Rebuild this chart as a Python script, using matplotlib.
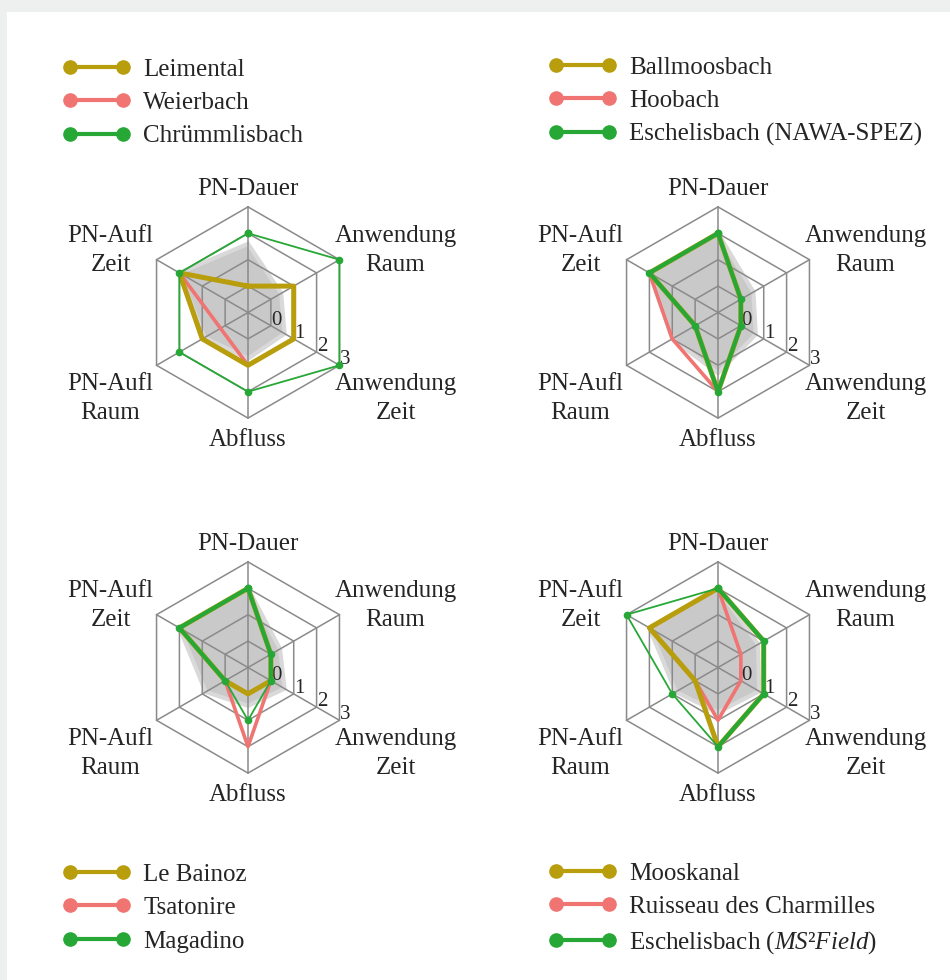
import numpy as np
import matplotlib.pyplot as plt
from matplotlib.lines import Line2D
from matplotlib.patches import Rectangle

plt.rcParams['font.family'] = ['Liberation Serif', 'DejaVu Serif']
plt.rcParams['mathtext.fontset'] = 'custom'
plt.rcParams['mathtext.rm'] = 'Liberation Serif'
plt.rcParams['mathtext.it'] = 'Liberation Serif:italic'

# radar axes, clockwise from the top
categories = ['PN-Dauer', 'Anwendung\nRaum', 'Anwendung\nZeit', 'Abfluss', 'PN-Aufl\nRaum', 'PN-Aufl\nZeit']
ring_values = [0, 1, 2, 3]

# panel 1
names_1 = ['Leimental', 'Weierbach', 'Chrümmlisbach']
leimental = [0, 1, 1, 1, 1, 2]
weierbach = [0, 1, 1, 1, 0.2, 2]
chruemmlisbach = [2, 3, 3, 2, 2, 2]
grey_1 = [1.6, 0.45, 0.6, 0.75, 0.9, 2.0]

# panel 2
names_2 = ['Ballmoosbach', 'Hoobach', 'Eschelisbach (NAWA-SPEZ)']
ballmoosbach = [2, 0, 0, 2, 0, 2]
hoobach = [2, 0, 0, 2, 1, 2]
eschelisbach_nawa = [2, 0, 0, 2, 0, 2]
grey_2 = [2.0, 0.55, 0.65, 1.3, 1.0, 2.0]

# panel 3
names_3 = ['Le Bainoz', 'Tsatonire', 'Magadino']
le_bainoz = [2, 0, 0, 0, 0, 2]
tsatonire = [2, 0, 0, 2, 0, 2]
magadino = [2, 0, 0, 1, 0, 2]
grey_3 = [2.0, 0.4, 0.6, 0.45, 0.85, 2.0]

# panel 4
names_4 = ['Mooskanal', 'Ruisseau des Charmilles', r'Eschelisbach ($\mathit{MS}$²$\mathit{Field}$)']
mooskanal = [2, 1, 1, 2, 0, 2]
charmilles = [2, 0, 0, 1, 0, 2]
eschelisbach_ms2 = [2, 1, 1, 2, 1, 3]
grey_4 = [2.0, 0.75, 0.8, 0.7, 0.85, 2.0]

YELLOW = '#b89d0c'
RED = '#f07472'
GREEN = '#27a836'
TXT = '#252525'
GRID = '#8a8a8a'

W, H = 950, 980
fig = plt.figure(figsize=(W / 100, H / 100), dpi=100, facecolor='#eef0ef')
fig.patches.append(Rectangle((7 / W, 0), 1, 1 - 12 / H, transform=fig.transFigure,
                             facecolor='white', edgecolor='none', zorder=-5))

theta = np.arange(6) * np.pi / 3
theta_c = np.append(theta, theta[0])


def close(v):
    v = np.asarray(v, dtype=float)
    return np.append(v, v[0])


# label offsets from the outer vertex, pixels (dx, dy up)
label_off = [(0, 18), (56, 9), (56, -33), (0, -22), (-46, -33), (-46, 9)]

R = 105.6  # outer ring radius in px


def radar(cx, cy, yel, red, grn, grey):
    ax = fig.add_axes([(cx - R) / W, 1 - (cy + R) / H, 2 * R / W, 2 * R / H], projection='polar')
    ax.set_theta_offset(np.pi / 2)
    ax.set_theta_direction(-1)
    ax.set_ylim(-1, 3)
    ax.axis('off')

    ax.fill(theta_c, close(grey), facecolor='#c9c9c9', edgecolor='#d9d9d9', lw=3, zorder=1, clip_on=False)
    for v in ring_values:
        ax.plot(theta_c, [v] * 7, color=GRID, lw=1.1, zorder=2, clip_on=False)
    for t in theta:
        ax.plot([t, t], [-1, 3], color=GRID, lw=1.1, zorder=2, clip_on=False)

    ax.plot(theta_c, close(red), color=RED, lw=2.6, zorder=3, clip_on=False)
    ax.plot(theta_c, close(yel), color=YELLOW, lw=3.6, zorder=4, clip_on=False)
    ax.plot(theta_c, close(grn), color=GREEN, lw=1.3, marker='o', ms=4.5, zorder=5, clip_on=False)
    # where green runs on top of yellow it shows thicker
    both = np.where(close(grn) == close(yel), close(grn), np.nan)
    ax.plot(theta_c, both, color=GREEN, lw=3.0, zorder=6, clip_on=False)

    for t, lab, (dx, dy) in zip(theta, categories, label_off):
        ax.annotate(lab, xy=(t, 3), xytext=(dx * 0.72, dy * 0.72), textcoords='offset points',
                    ha='center', va='center', fontsize=18, color=TXT, linespacing=1.4)
    for v in ring_values:
        ax.annotate(str(v), xy=(theta[2], v), xytext=(4.0, 4.0), textcoords='offset points',
                    ha='center', va='center', fontsize=15, color=TXT)


radar(248, 312.5, leimental, weierbach, chruemmlisbach, grey_1)
radar(718, 312.5, ballmoosbach, hoobach, eschelisbach_nawa, grey_2)
radar(248, 667.5, le_bainoz, tsatonire, magadino, grey_3)
radar(718, 667.5, mooskanal, charmilles, eschelisbach_ms2, grey_4)


def legend(names, x, y):
    handles = [Line2D([], [], color=c, lw=3, marker='o', ms=9.5) for c in (YELLOW, RED, GREEN)]
    leg = fig.legend(handles, names, loc='upper left', bbox_to_anchor=(x / W, 1 - y / H),
                     frameon=False, fontsize=18, numpoints=2, handlelength=2.72,
                     handletextpad=0.5, labelspacing=0.44, borderpad=0, borderaxespad=0)
    for t in leg.get_texts():
        t.set_color(TXT)


legend(names_1, 62.5, 58)
legend(names_2, 548.5, 56)
legend(names_3, 62.5, 863)
legend(names_4, 548.5, 862)

fig.savefig('out.png', dpi=100, facecolor=fig.get_facecolor())
